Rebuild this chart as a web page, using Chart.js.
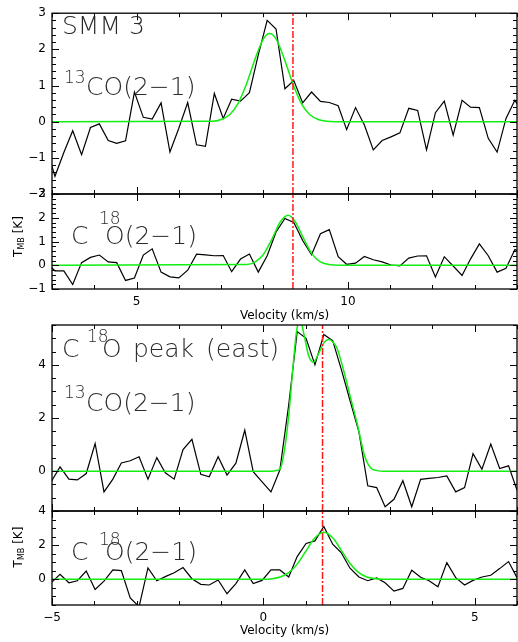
<!DOCTYPE html>
<html><head><meta charset="utf-8">
<script src="https://cdn.jsdelivr.net/npm/chart.js@4.4.1/dist/chart.umd.min.js"></script>
<style>
html,body{margin:0;padding:0;background:#fff;}
#wrap{position:relative;width:518px;height:642px;overflow:hidden;background:#fff;}
#wrap canvas{position:absolute;left:0;top:0;}
</style></head><body>
<div id="wrap">
<canvas id="p1" width="518" height="642"></canvas>
<canvas id="p2" width="518" height="642"></canvas>
<canvas id="p3" width="518" height="642"></canvas>
<canvas id="p4" width="518" height="642"></canvas>
</div>
<script>
// ---------- data ----------
const velSMM3 = [2.86,3.07,3.28,3.49,3.70,3.91,4.12,4.33,4.53,4.74,4.95,5.16,5.37,5.58,5.79,6.00,6.21,6.42,6.63,6.84,7.05,7.25,7.46,7.67,7.88,8.09,8.30,8.51,8.72,8.93,9.14,9.35,9.56,9.77,9.97,10.18,10.39,10.60,10.81,11.02,11.23,11.44,11.65,11.86,12.07,12.28,12.49,12.70,12.90,13.11,13.32,13.53,13.74,13.95,14.16];
const tmbSMM3_13CO = [-0.70,-1.51,-0.85,-0.25,-0.91,-0.16,-0.06,-0.52,-0.60,-0.53,0.82,0.12,0.07,0.52,-0.84,-0.18,0.53,-0.64,-0.68,0.78,0.09,0.62,0.57,0.80,1.85,2.80,2.56,0.91,1.14,0.52,0.82,0.56,0.53,0.44,-0.22,0.39,-0.09,-0.78,-0.52,-0.42,-0.31,0.37,0.31,-0.78,0.25,0.57,-0.37,0.59,0.40,0.39,-0.46,-0.84,0.09,0.59,0.20];
const tmbSMM3_C18O = [0.15,-0.24,-0.24,-0.81,0.11,0.33,0.43,0.14,0.11,-0.64,-0.54,0.43,0.69,-0.29,-0.49,-0.53,-0.21,0.47,0.44,0.40,0.41,-0.27,0.26,0.47,-0.29,0.40,1.40,1.97,1.80,1.04,0.44,1.33,1.50,0.36,0.04,0.09,0.37,0.23,0.14,0.01,-0.03,0.30,0.39,0.40,-0.49,0.36,-0.03,-0.43,0.26,0.90,0.40,-0.29,-0.13,0.66,0.50];

const velEast = [-5.02,-4.81,-4.60,-4.40,-4.19,-3.98,-3.77,-3.56,-3.36,-3.15,-2.94,-2.73,-2.52,-2.32,-2.11,-1.90,-1.69,-1.48,-1.28,-1.07,-0.86,-0.65,-0.44,-0.24,-0.03,0.18,0.39,0.60,0.80,1.01,1.22,1.43,1.64,1.84,2.05,2.26,2.47,2.68,2.88,3.09,3.30,3.51,3.72,3.92,4.13,4.34,4.55,4.76,4.96,5.17,5.38,5.59,5.80,6.00];
const tmbEast_13CO = [-0.40,0.16,-0.30,-0.33,-0.09,1.04,-0.78,-0.30,0.31,0.39,0.54,-0.30,0.51,-0.06,-0.30,0.81,1.20,-0.12,-0.21,0.54,-0.15,0.30,1.54,-0.02,-0.40,-0.78,0.04,2.50,5.25,5.00,4.00,5.14,4.91,3.85,2.66,1.48,-0.55,-0.62,-1.34,-1.06,-0.36,-1.34,-0.31,-0.27,-0.24,-0.18,-0.78,-0.62,0.66,0.07,1.02,0.10,0.20,-0.71];
const tmbEast_C18O = [-0.20,0.29,-0.20,-0.08,0.49,-0.59,-0.10,0.55,0.51,-1.08,-1.60,0.67,-0.08,0.16,0.39,0.69,0.04,-0.29,-0.33,-0.04,-0.84,-0.25,0.55,-0.25,-0.06,0.55,0.55,0.14,1.33,2.10,2.25,3.10,2.06,1.57,0.65,0.14,-0.08,0.08,-0.20,-0.69,-0.53,0.53,0.12,-0.08,-0.43,0.98,0.10,-0.33,-0.06,0.14,0.24,0.63,1.04,0.10];

// fitted profiles (green)
const fitVelSMM3_13CO = [3,6.8,7.0,7.2,7.4,7.6,7.8,8.0,8.15,8.3,8.5,8.7,8.9,9.1,9.3,9.5,9.7,14];
const fitSMM3_13CO    = [0,0.01,0.06,0.19,0.50,1.04,1.72,2.29,2.44,2.29,1.72,1.04,0.50,0.19,0.06,0.01,0,0];
const fitVelSMM3_C18O = [3,7.6,7.8,8.0,8.2,8.4,8.58,8.75,8.95,9.15,9.35,9.55,9.8,14];
const fitSMM3_C18O    = [0,0.03,0.13,0.45,1.09,1.82,2.11,1.85,1.13,0.48,0.14,0.03,0,0];
const fitVelEast_13CO = [-5,0.2,0.30,0.40,0.50,0.60,0.70,0.78,0.86,0.96,1.07,1.18,1.30,1.42,1.55,1.65,1.75,1.91,2.07,2.23,2.39,2.54,2.70,2.85,6];
const fitEast_13CO    = [0,0,0.02,0.10,0.8,2.1,3.9,5.2,5.75,5.15,4.35,4.1,4.4,4.8,4.95,4.85,4.6,3.72,2.72,1.72,0.6,0.12,0.02,0,0];
const fitVelEast_C18O = [-5,0.0,0.2,0.4,0.6,0.8,1.0,1.2,1.43,1.65,1.85,2.05,2.25,2.45,2.65,2.85,6];
const fitEast_C18O    = [0,0.01,0.04,0.14,0.39,0.89,1.63,2.37,2.75,2.40,1.67,0.93,0.41,0.14,0.04,0.01,0];

const vlsrSMM3 = 8.7;
const vlsrEast = 1.4;

const xTicksSMM3 = [5,10];
const xTicksEast = [-5,0,5];
const yTicksP1 = [-2,-1,0,1,2,3];
const yTicksP2 = [-1,0,1,2,3];
const yTicksP3 = [0,2,4];
const yTicksP4 = [0,2,4];

// ---------- drawing ----------
const FONT = "'DejaVu Sans', sans-serif";
const LABEL_FONT = "200 25px 'DejaVu Sans', sans-serif";
const XAXIS_H = 30;
const fmt = v => String(v).replace('-', '\u2212');

function framePlugin(spec) {
  return {
    id: 'frame' + spec.id,
    afterDraw(chart) {
      const {ctx, chartArea: a, scales: {x, y}} = chart;
      ctx.save();
      ctx.strokeStyle = '#000';
      ctx.lineWidth = 1;
      ctx.beginPath();
      const loop = (sc, minor, major, fn) => {
        const n0 = Math.ceil(sc.min / minor - 1e-9), n1 = Math.floor(sc.max / minor + 1e-9);
        for (let n = n0; n <= n1; n++) {
          const v = n * minor;
          const isMaj = Math.abs(v / major - Math.round(v / major)) < 1e-6;
          fn(sc.getPixelForValue(v), isMaj ? 7 : 4);
        }
      };
      loop(x, spec.xMinor, spec.xMajor, (p, L) => {
        const px = Math.round(p) + 0.5;
        ctx.moveTo(px, a.bottom); ctx.lineTo(px, a.bottom - L);
        ctx.moveTo(px, a.top); ctx.lineTo(px, a.top + L);
      });
      loop(y, spec.yMinor, spec.yMajor, (p, L) => {
        const py = Math.round(p) + 0.5;
        ctx.moveTo(a.left, py); ctx.lineTo(a.left + L, py);
        ctx.moveTo(a.right, py); ctx.lineTo(a.right - L, py);
      });
      ctx.stroke();
      ctx.lineWidth = 1.3;
      ctx.strokeRect(a.left, a.top, a.right - a.left, a.bottom - a.top);

      // annotations
      ctx.fillStyle = '#2a2a2a';
      ctx.textAlign = 'left';
      ctx.textBaseline = 'alphabetic';
      for (const t of spec.texts) {
        ctx.font = t.small ? "200 17px 'DejaVu Sans', sans-serif" : LABEL_FONT;
        ctx.fillText(t.s, t.x, t.y);
      }
      ctx.fillStyle = '#000';
      if (spec.xTitle) {
        ctx.font = "12px " + FONT;
        ctx.textAlign = 'center';
        ctx.fillText('Velocity (km/s)', (a.left + a.right) / 2, spec.xTitle);
      }
      if (spec.yTitle) {
        ctx.save();
        ctx.translate(22, spec.yTitle);
        ctx.rotate(-Math.PI / 2);
        ctx.textAlign = 'left';
        ctx.font = "12px " + FONT;
        const wT = ctx.measureText('T').width;
        ctx.font = "8px " + FONT;
        const wMB = ctx.measureText('MB').width;
        ctx.font = "12px " + FONT;
        const wK = ctx.measureText(' [K]').width;
        let x0 = -(wT + wMB + wK) / 2;
        ctx.fillText('T', x0, 0);
        ctx.font = "8px " + FONT;
        ctx.fillText('MB', x0 + wT, 1.5);
        ctx.font = "12px " + FONT;
        ctx.fillText(' [K]', x0 + wT + wMB, 0);
        ctx.restore();
      }
      ctx.restore();
    }
  };
}

function makePanel(id, p) {
  const datasets = [
    {data: [{x: p.vlsr, y: p.yMin}, {x: p.vlsr, y: p.yMax}], borderColor: '#ff1a1a', borderWidth: 1.5,
     borderDash: [7, 2, 2, 2], pointRadius: 0, showLine: true},
    {data: p.fitV.map((v, i) => ({x: v, y: p.fitT[i]})), borderColor: '#11ee11', borderWidth: 1.5,
     pointRadius: 0, showLine: true, cubicInterpolationMode: 'monotone'},
    {data: p.vel.map((v, i) => ({x: v, y: p.T[i]})), borderColor: '#000', borderWidth: 1.2,
     pointRadius: 0, showLine: true, tension: 0}
  ];
  const xh = p.showX ? XAXIS_H : 0;
  new Chart(document.getElementById(id), {
    type: 'scatter',
    data: {datasets},
    options: {
      responsive: false, animation: false, devicePixelRatio: 1,
      layout: {padding: {left: 0, right: 1, top: p.top, bottom: 642 - p.bottom - xh}},
      plugins: {legend: {display: false}, tooltip: {enabled: false}, title: {display: false}},
      elements: {line: {borderJoinStyle: 'miter'}},
      scales: {
        x: {type: 'linear', min: p.xMin, max: p.xMax, display: p.showX,
            grid: {display: false, drawTicks: false}, border: {display: false},
            afterBuildTicks: s => { s.ticks = p.xTicks.map(v => ({value: v})); },
            afterFit: s => { s.height = xh; },
            ticks: {padding: 6, font: {family: FONT, size: 12}, color: '#000', maxRotation: 0, autoSkip: false, callback: fmt}},
        y: {type: 'linear', min: p.yMin, max: p.yMax,
            grid: {display: false, drawTicks: false}, border: {display: false},
            afterBuildTicks: s => { s.ticks = p.yTicks.map(v => ({value: v})); },
            afterFit: s => { s.width = 52; },
            ticks: {padding: 6, font: {family: FONT, size: 12}, color: '#000', autoSkip: false, callback: fmt}}
      }
    },
    plugins: [framePlugin(p)]
  });
}

makePanel('p1', {id: 1, top: 8, bottom: 194, xMin: 3, xMax: 14, yMin: -2, yMax: 3, showX: false,
  xTicks: xTicksSMM3, yTicks: yTicksP1, xMinor: 1, xMajor: 5, yMinor: 0.2, yMajor: 1,
  vel: velSMM3, T: tmbSMM3_13CO, fitV: fitVelSMM3_13CO, fitT: fitSMM3_13CO, vlsr: vlsrSMM3,
  texts: [{s: 'SMM 3', x: 62, y: 34}, {s: '13', x: 64, y: 83, small: true}, {s: 'CO(2\u22121)', x: 86, y: 95}]});

makePanel('p2', {id: 2, top: 194, bottom: 289, xMin: 3, xMax: 14, yMin: -1, yMax: 3, showX: true,
  xTicks: xTicksSMM3, yTicks: yTicksP2, xMinor: 1, xMajor: 5, yMinor: 0.2, yMajor: 1,
  vel: velSMM3, T: tmbSMM3_C18O, fitV: fitVelSMM3_C18O, fitT: fitSMM3_C18O, vlsr: vlsrSMM3,
  texts: [{s: 'C', x: 71, y: 244}, {s: '18', x: 99, y: 224, small: true}, {s: 'O(2\u22121)', x: 105, y: 244}],
  xTitle: 319, yTitle: 236.5});

makePanel('p3', {id: 3, top: 325, bottom: 511, xMin: -5, xMax: 6, yMin: -1.5, yMax: 5.5, showX: false,
  xTicks: xTicksEast, yTicks: yTicksP3, xMinor: 1, xMajor: 5, yMinor: 0.5, yMajor: 2,
  vel: velEast, T: tmbEast_13CO, fitV: fitVelEast_13CO, fitT: fitEast_13CO, vlsr: vlsrEast,
  texts: [{s: 'C', x: 62, y: 357}, {s: '18', x: 87, y: 342, small: true}, {s: 'O', x: 102, y: 357},
          {s: 'peak', x: 133, y: 357}, {s: '(east)', x: 206, y: 357},
          {s: '13', x: 64, y: 398, small: true}, {s: 'CO(2\u22121)', x: 86, y: 411}]});

makePanel('p4', {id: 4, top: 511, bottom: 605, xMin: -5, xMax: 6, yMin: -1.5, yMax: 4, showX: true,
  xTicks: xTicksEast, yTicks: yTicksP4, xMinor: 1, xMajor: 5, yMinor: 0.5, yMajor: 2,
  vel: velEast, T: tmbEast_C18O, fitV: fitVelEast_C18O, fitT: fitEast_C18O, vlsr: vlsrEast,
  texts: [{s: 'C', x: 71, y: 560}, {s: '18', x: 99, y: 545, small: true}, {s: 'O(2\u22121)', x: 105, y: 560}],
  xTitle: 634, yTitle: 547});
</script>
</body></html>
